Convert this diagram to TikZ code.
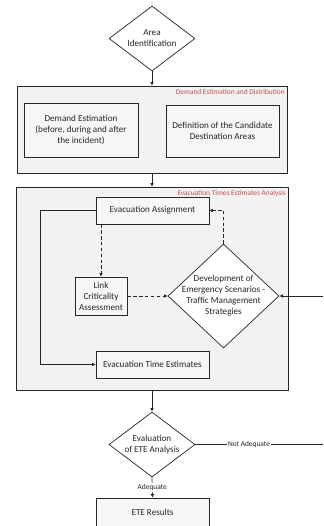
\documentclass[tikz,border=0pt]{standalone}
\usepackage{fontspec}
\setmainfont{Carlito}
\usepackage{tikz}
\usepackage{xcolor}
\usetikzlibrary{shapes.geometric, positioning, arrows.meta}
\definecolor{eteline}{RGB}{38, 38, 38}
\definecolor{etered}{RGB}{192, 80, 77}
\definecolor{etegroup}{RGB}{242, 242, 242}
\definecolor{etebox}{RGB}{246, 246, 246}
\tikzset{
    etebase/.style={draw=eteline, line width=0.6pt, font=\fontsize{7.8}{9.4}\selectfont, text=eteline, align=center, inner sep=0pt},
    groupbox/.style={etebase, rectangle, fill=etegroup},
    taskbox/.style={etebase, rectangle, fill=etebox},
    decision/.style={etebase, diamond, fill=white},
    grouplabel/.style={font=\fontsize{6.3}{7}\selectfont, text=etered, inner sep=1pt},
    edgelabel/.style={font=\fontsize{6.3}{7}\selectfont, text=eteline, fill=white, inner sep=1pt},
    arr/.style={draw=eteline, line width=0.6pt, -{Latex[length=3pt, width=3pt]}},
    dasharr/.style={arr, densely dashed}
}
\begin{document}
\begin{tikzpicture}[x=0.03cm, y=-0.03cm]
            \useasboundingbox (0,0) rectangle (323,526);
            \node[decision, minimum width=2.58cm, minimum height=1.95cm,
                label={[etebase, draw=none]center:Area\\Identification}] (area) at (152,38.5) {};
            \node[groupbox, minimum width=8.1cm, minimum height=2.61cm] (dist) at (152,129.5) {};
            \node[grouplabel, anchor=north east] (distlbl) at ([xshift=-1pt, yshift=-2pt]dist.north east) {Demand Estimation and Distribution};
            \node[taskbox, minimum width=3.42cm, minimum height=1.62cm] (demand) at (81,130) {Demand Estimation\\(before, during and after\\the incident)};
            \node[taskbox, minimum width=3.39cm, minimum height=1.56cm] (dest) at (222.5,131) {Definition of the Candidate\\Destination Areas};
            \node[groupbox, minimum width=8.16cm, minimum height=6.09cm] (anal) at (152,288.5) {};
            \node[grouplabel, anchor=north east] (anallbl) at ([xshift=-1pt, yshift=-2pt]anal.north east) {Evacuation Times Estimates Analysis};
            \node[taskbox, minimum width=3.39cm, minimum height=0.81cm] (assign) at (152.5,210.5) {Evacuation Assignment};
            \node[taskbox, minimum width=1.56cm, minimum height=1.14cm] (link) at (101,296) {Link\\Criticality\\Assessment};
            \node[decision, minimum width=3.33cm, minimum height=3.12cm,
                label={[etebase, draw=none]center:Development of\\Emergency Scenarios -\\Traffic Management\\Strategies}] (scen) at (223.5,296) {};
            \node[taskbox, minimum width=3.39cm, minimum height=0.81cm] (times) at (152.5,364.5) {Evacuation Time Estimates};
            \node[decision, minimum width=2.58cm, minimum height=1.95cm,
                label={[etebase, draw=none]center:Evaluation\\of ETE Analysis}] (eval) at (152,444.5) {};
            \node[taskbox, minimum width=3.39cm, minimum height=0.84cm] (result) at (152.5,512) {ETE Results};
            \coordinate (backout) at (323,444.5);
            \coordinate (backin) at (323,296);

            \draw[arr] (area.south) -- (dist.north);
            \draw[arr] (dist.south) -- (anal.north);
            \draw[arr] (assign.west) -- ++(-55,0) |- (times.west);
            \draw[dasharr] (link.north |- assign.south) -- (link.north);
            \draw[dasharr] (link.east) -- (scen.west);
            \draw[dasharr] (scen.north) |- (assign.east);
            \draw[arr] (backin) -- (scen.east);
            \draw[arr] (anal.south) -- (eval.north);
            \draw[draw=eteline, line width=0.6pt] (eval.east) -- node[edgelabel, pos=0.42] (notok) {Not Adequate} (backout);
            \draw[arr] (eval.south) -- node[edgelabel] (ok) {Adequate} (result.north);
        \end{tikzpicture}
\end{document}
